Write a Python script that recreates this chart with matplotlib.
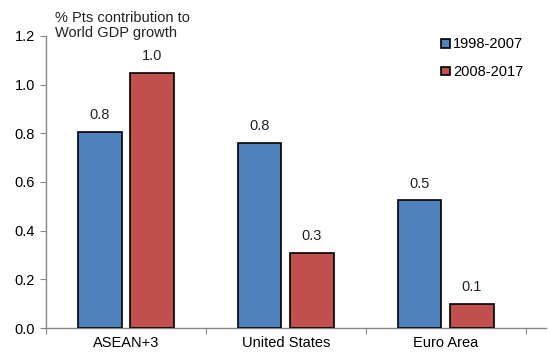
import matplotlib
matplotlib.use("Agg")
import matplotlib.pyplot as plt
import numpy as np

plt.rcParams['font.family'] = ['Liberation Sans', 'DejaVu Sans']

categories = ["ASEAN+3", "United States", "Euro Area"]
series_names = ["1998-2007", "2008-2017"]
vals_1998_2007 = [0.807, 0.76, 0.525]
vals_2008_2017 = [1.048, 0.31, 0.10]
colors = ["#4F81BD", "#C0504D"]

FS = 10.5
fig = plt.figure(figsize=(5.48, 3.54), dpi=100)
ax = fig.add_axes([0.084, 0.0734, 0.912, 0.825])

x = np.arange(len(categories))
w = 0.27
off = 0.163
for vals, name, c, d in [(vals_1998_2007, series_names[0], colors[0], -off),
                         (vals_2008_2017, series_names[1], colors[1], off)]:
    bars = ax.bar(x + d, vals, w, color=c, edgecolor="black", linewidth=1.2,
                  label=name, zorder=3)
    for b, v in zip(bars, vals):
        ax.text(b.get_x() + b.get_width() / 2, v + 0.04, f"{v:.1f}",
                ha="center", va="bottom", fontsize=FS, color="#222222")

ax.set_xlim(-0.5, 2.625)
ax.set_ylim(0, 1.2)
ax.set_yticks(np.arange(0, 1.21, 0.2))
ax.set_yticklabels([f"{t:.1f}" for t in np.arange(0, 1.21, 0.2)])
ax.set_xticks([-0.5, 0.5, 1.5, 2.5])
ax.set_xticklabels([])
ax.set_xticks(x, minor=True)
ax.set_xticklabels(categories, minor=True)
ax.tick_params(axis="x", which="minor", length=0, pad=6, labelsize=FS)
ax.tick_params(axis="x", which="major", length=4, color="#888888")
ax.tick_params(axis="y", length=4, color="#888888", labelsize=FS, pad=4)
for s in ["top", "right"]:
    ax.spines[s].set_visible(False)
for s in ["left", "bottom"]:
    ax.spines[s].set_color("#888888")
    ax.spines[s].set_linewidth(1.0)

fig.text(0.1, 0.968, "% Pts contribution to\nWorld GDP growth", ha="left", va="top",
         fontsize=FS, linespacing=1.1, color="#222222")

leg = ax.legend(loc="upper left", bbox_to_anchor=(0.765, 1.04), frameon=False,
                fontsize=FS, handlelength=0.55, handleheight=0.55,
                handletextpad=0.25, labelspacing=0.95)

fig.savefig("out.png", dpi=100)
